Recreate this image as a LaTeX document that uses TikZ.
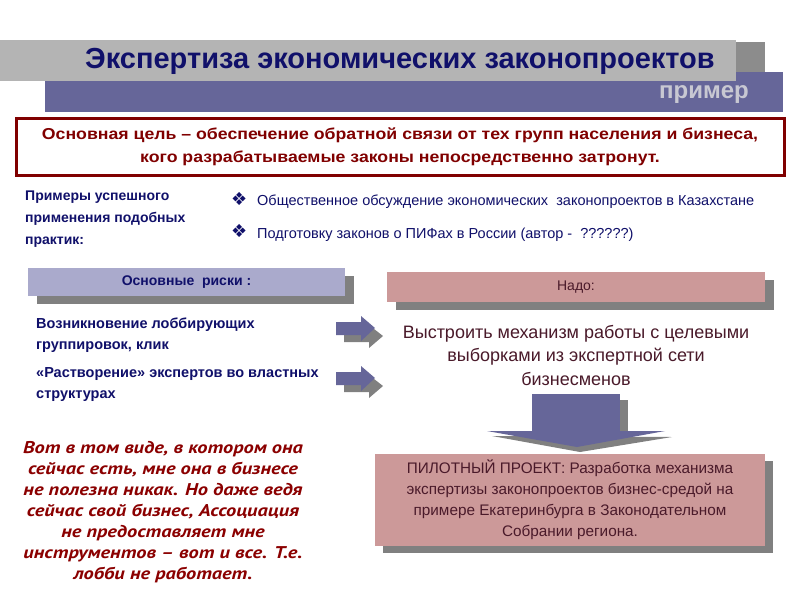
\documentclass[tikz,border=0pt]{standalone}
\usepackage{fontspec}
\setmainfont{Liberation Sans}
\newfontfamily\symfont{DejaVu Sans}
\newfontfamily\widefont[FakeStretch=1.12]{Liberation Sans}
\newfontfamily\quotefont[FakeStretch=1.2]{PT Sans}
\definecolor{navy}{HTML}{10106A}
\definecolor{lgray}{HTML}{B4B4B4}
\definecolor{dgray}{HTML}{8C8C8C}
\definecolor{sgray}{HTML}{808080}
\definecolor{bluebar}{HTML}{666699}
\definecolor{lav}{HTML}{AAAACC}
\definecolor{pink}{HTML}{CC9999}
\definecolor{dred}{HTML}{800000}
\definecolor{maroon}{HTML}{4A1A2A}
\definecolor{quote}{HTML}{8B0000}
\definecolor{primer}{HTML}{C8C8D2}
\tikzset{
  txt/.style={inner sep=0pt, align=center},
  ltxt/.style={inner sep=0pt, align=left, anchor=west},
}
\begin{document}
\begin{tikzpicture}[x=1pt,y=-1pt]
\useasboundingbox[fill=white] (0,0) rectangle (800,600);
% title bars
\fill[dgray] (735,42) rectangle (765,80);
\fill[bluebar] (45,72) rectangle (783,112);
\fill[lgray] (0,40) rectangle (736,81);
\node[txt, text=navy, font=\fontsize{29}{31}\bfseries] (title) at (400,61) {Экспертиза экономических законопроектов};
\node[txt, text=primer, font=\fontsize{24}{26}\bfseries] (primer) at (704,95) {пример};
% goal box
\node[draw=dred, line width=3pt, minimum width=768pt, minimum height=57pt, inner sep=0pt, align=center,
  text=dred, font=\widefont\fontsize{15.8}{23}\bfseries] (goal) at (400,147)
  {Основная цель – обеспечение обратной связи от тех групп населения и бизнеса,\\кого разрабатываемые законы непосредственно затронут.};
% examples
\node[ltxt, text=navy, font=\fontsize{14}{22}\bfseries, anchor=north west] (examples) at (25,191)
  {Примеры успешного\\применения подобных\\практик:};
\node[ltxt, text=navy, font=\symfont\fontsize{18}{20}\selectfont] (b1) at (231,199) {❖};
\node[ltxt, text=navy, font=\fontsize{14.5}{16}\selectfont] (e1) at (257,202) {Общественное обсуждение экономических\ \ законопроектов в Казахстане};
\node[ltxt, text=navy, font=\symfont\fontsize{18}{20}\selectfont] (b2) at (231,231) {❖};
\node[ltxt, text=navy, font=\fontsize{14.5}{16}\selectfont] (e2) at (257,235) {Подготовку законов о ПИФах в России (автор -\ \ ??????)};
% risks header
\fill[gray] (37,276) rectangle (354,304);
\fill[lav] (28,268) rectangle (345,296);
\node[txt, text=navy, font=\fontsize{14}{16}\bfseries] (risks) at (186.5,282) {Основные\ \ риски :};
% nado header
\fill[sgray] (396,280) rectangle (774,310);
\fill[pink] (387,272) rectangle (765,302);
\node[txt, text=maroon, font=\fontsize{14}{16}\selectfont] (nado) at (576,287) {Надо:};
% risk items
\node[ltxt, text=navy, font=\fontsize{14.5}{21}\bfseries, anchor=north west] (r1) at (36,318)
  {Возникновение лоббирующих\\группировок, клик};
\node[ltxt, text=navy, font=\fontsize{14.5}{21}\bfseries, anchor=north west] (r2) at (36,367)
  {«Растворение» экспертов во властных\\структурах};
% small arrows
\foreach \yy/\nm in {328/a1, 378/a2}{
  \fill[sgray] (344,\yy+2) -- (369,\yy+2) -- (369,\yy-3) -- (383,\yy+8) -- (369,\yy+20) -- (369,\yy+14) -- (344,\yy+14) -- cycle;
  \fill[bluebar] (336,\yy-6) -- (361,\yy-6) -- (361,\yy-12) -- (375,\yy) -- (361,\yy+13) -- (361,\yy+7) -- (336,\yy+7) -- cycle;
}
% vystroit
\node[txt, text=maroon, font=\fontsize{18}{23.5}\selectfont] (build) at (576,355)
  {Выстроить механизм работы с целевыми\\выборками из экспертной сети\\бизнесменов};
% down arrow
\fill[sgray] (540,400) rectangle (628,438);
\fill[sgray] (492,436) -- (672,437) -- (580,452) -- cycle;
\fill[bluebar] (532,394) rectangle (620,433);
\fill[bluebar] (487,431) -- (665,431) -- (577,447) -- cycle;
% pilot
\fill[sgray] (383,461) rectangle (773,553);
\node[fill=pink, minimum width=390pt, minimum height=92pt, inner sep=0pt, align=center,
  text=maroon, font=\fontsize{15.3}{21}\selectfont] (pilot) at (570,500)
  {ПИЛОТНЫЙ ПРОЕКТ: Разработка механизма\\экспертизы законопроектов бизнес-средой на\\примере Екатеринбурга в Законодательном\\Собрании региона.};
% quote
\node[txt, text=quote, font=\quotefont\fontsize{17}{21}\bfseries\itshape] (q) at (163,512)
  {Вот в том виде, в котором она\\сейчас есть, мне она в бизнесе\\не полезна никак. Но даже ведя\\сейчас свой бизнес, Ассоциация\\не предоставляет мне\\инструментов – вот и все. Т.е.\\лобби не работает.};
\end{tikzpicture}
\end{document}
